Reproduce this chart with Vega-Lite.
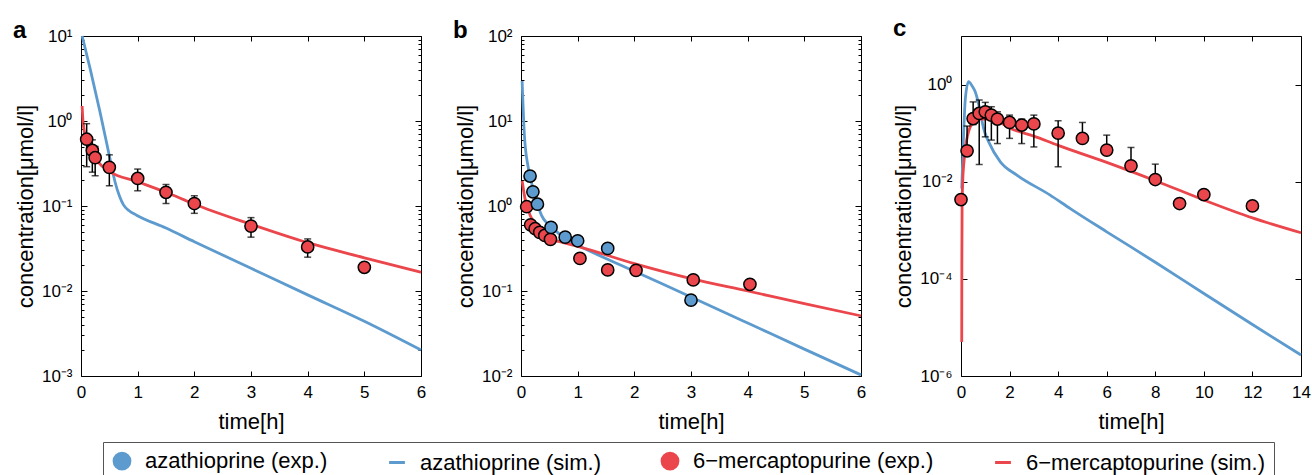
{
"$schema":"https://vega.github.io/schema/vega-lite/v6.json",
"padding":{"left":12,"top":16,"right":5,"bottom":5},
"spacing":100,
"bounds":"flush",
"background":"white",
"data":{"values":[
{"p":"a","s":"azathioprine (sim.)","t":0.02,"v":10},
{"p":"a","s":"azathioprine (sim.)","t":0.16,"v":4.16},
{"p":"a","s":"azathioprine (sim.)","t":0.335,"v":1.28},
{"p":"a","s":"azathioprine (sim.)","t":0.51,"v":0.363},
{"p":"a","s":"azathioprine (sim.)","t":0.6,"v":0.193},
{"p":"a","s":"azathioprine (sim.)","t":0.68,"v":0.13},
{"p":"a","s":"azathioprine (sim.)","t":0.75,"v":0.103},
{"p":"a","s":"azathioprine (sim.)","t":0.85,"v":0.088},
{"p":"a","s":"azathioprine (sim.)","t":0.98,"v":0.078},
{"p":"a","s":"azathioprine (sim.)","t":1.5,"v":0.055},
{"p":"a","s":"azathioprine (sim.)","t":2,"v":0.038},
{"p":"a","s":"azathioprine (sim.)","t":3,"v":0.0185},
{"p":"a","s":"azathioprine (sim.)","t":4,"v":0.009},
{"p":"a","s":"azathioprine (sim.)","t":5,"v":0.0044},
{"p":"a","s":"azathioprine (sim.)","t":6,"v":0.00202},
{"p":"a","s":"6−mercaptopurine (sim.)","t":0.02,"v":1.5},
{"p":"a","s":"6−mercaptopurine (sim.)","t":0.04,"v":0.9},
{"p":"a","s":"6−mercaptopurine (sim.)","t":0.1,"v":0.6},
{"p":"a","s":"6−mercaptopurine (sim.)","t":0.2,"v":0.42},
{"p":"a","s":"6−mercaptopurine (sim.)","t":0.3,"v":0.33},
{"p":"a","s":"6−mercaptopurine (sim.)","t":0.5,"v":0.255},
{"p":"a","s":"6−mercaptopurine (sim.)","t":1,"v":0.193},
{"p":"a","s":"6−mercaptopurine (sim.)","t":1.5,"v":0.145},
{"p":"a","s":"6−mercaptopurine (sim.)","t":2,"v":0.105},
{"p":"a","s":"6−mercaptopurine (sim.)","t":3,"v":0.061},
{"p":"a","s":"6−mercaptopurine (sim.)","t":4,"v":0.037},
{"p":"a","s":"6−mercaptopurine (sim.)","t":5,"v":0.0246},
{"p":"a","s":"6−mercaptopurine (sim.)","t":6,"v":0.0166},
{"p":"a","s":"6−mercaptopurine (exp.)","t":0.1,"v":0.61,"lo":0.29,"hi":0.93},
{"p":"a","s":"6−mercaptopurine (exp.)","t":0.2,"v":0.45,"lo":0.25,"hi":0.6},
{"p":"a","s":"6−mercaptopurine (exp.)","t":0.25,"v":0.37,"lo":0.227,"hi":0.5},
{"p":"a","s":"6−mercaptopurine (exp.)","t":0.5,"v":0.285,"lo":0.173,"hi":0.4},
{"p":"a","s":"6−mercaptopurine (exp.)","t":1,"v":0.211,"lo":0.151,"hi":0.272},
{"p":"a","s":"6−mercaptopurine (exp.)","t":1.5,"v":0.145,"lo":0.107,"hi":0.179},
{"p":"a","s":"6−mercaptopurine (exp.)","t":2,"v":0.107,"lo":0.082,"hi":0.132},
{"p":"a","s":"6−mercaptopurine (exp.)","t":3,"v":0.058,"lo":0.043,"hi":0.073},
{"p":"a","s":"6−mercaptopurine (exp.)","t":4,"v":0.033,"lo":0.025,"hi":0.041},
{"p":"a","s":"6−mercaptopurine (exp.)","t":5,"v":0.019},
{"p":"b","s":"azathioprine (sim.)","t":0.02,"v":29.5},
{"p":"b","s":"azathioprine (sim.)","t":0.06,"v":6.8},
{"p":"b","s":"azathioprine (sim.)","t":0.13,"v":2.77},
{"p":"b","s":"azathioprine (sim.)","t":0.25,"v":1.35},
{"p":"b","s":"azathioprine (sim.)","t":0.36,"v":0.78},
{"p":"b","s":"azathioprine (sim.)","t":0.48,"v":0.61},
{"p":"b","s":"azathioprine (sim.)","t":0.6,"v":0.52},
{"p":"b","s":"azathioprine (sim.)","t":0.78,"v":0.41},
{"p":"b","s":"azathioprine (sim.)","t":1,"v":0.345},
{"p":"b","s":"azathioprine (sim.)","t":2,"v":0.171},
{"p":"b","s":"azathioprine (sim.)","t":3,"v":0.085},
{"p":"b","s":"azathioprine (sim.)","t":4,"v":0.042},
{"p":"b","s":"azathioprine (sim.)","t":5,"v":0.0207},
{"p":"b","s":"azathioprine (sim.)","t":6,"v":0.0103},
{"p":"b","s":"6−mercaptopurine (sim.)","t":0.02,"v":1.97},
{"p":"b","s":"6−mercaptopurine (sim.)","t":0.07,"v":1.23},
{"p":"b","s":"6−mercaptopurine (sim.)","t":0.16,"v":0.78},
{"p":"b","s":"6−mercaptopurine (sim.)","t":0.32,"v":0.55},
{"p":"b","s":"6−mercaptopurine (sim.)","t":0.5,"v":0.42},
{"p":"b","s":"6−mercaptopurine (sim.)","t":0.75,"v":0.37},
{"p":"b","s":"6−mercaptopurine (sim.)","t":1,"v":0.335},
{"p":"b","s":"6−mercaptopurine (sim.)","t":2,"v":0.21},
{"p":"b","s":"6−mercaptopurine (sim.)","t":3,"v":0.14},
{"p":"b","s":"6−mercaptopurine (sim.)","t":4,"v":0.1},
{"p":"b","s":"6−mercaptopurine (sim.)","t":5,"v":0.071},
{"p":"b","s":"6−mercaptopurine (sim.)","t":6,"v":0.051},
{"p":"b","s":"6−mercaptopurine (exp.)","t":0.1,"v":0.98},
{"p":"b","s":"6−mercaptopurine (exp.)","t":0.17,"v":0.6},
{"p":"b","s":"6−mercaptopurine (exp.)","t":0.25,"v":0.54},
{"p":"b","s":"6−mercaptopurine (exp.)","t":0.33,"v":0.49},
{"p":"b","s":"6−mercaptopurine (exp.)","t":0.42,"v":0.45},
{"p":"b","s":"6−mercaptopurine (exp.)","t":0.52,"v":0.405},
{"p":"b","s":"6−mercaptopurine (exp.)","t":1.04,"v":0.242},
{"p":"b","s":"6−mercaptopurine (exp.)","t":1.53,"v":0.177},
{"p":"b","s":"6−mercaptopurine (exp.)","t":2.03,"v":0.175},
{"p":"b","s":"6−mercaptopurine (exp.)","t":3.04,"v":0.135},
{"p":"b","s":"6−mercaptopurine (exp.)","t":4.04,"v":0.12},
{"p":"b","s":"azathioprine (exp.)","t":0.16,"v":2.25},
{"p":"b","s":"azathioprine (exp.)","t":0.21,"v":1.47},
{"p":"b","s":"azathioprine (exp.)","t":0.29,"v":1.05},
{"p":"b","s":"azathioprine (exp.)","t":0.53,"v":0.56},
{"p":"b","s":"azathioprine (exp.)","t":0.78,"v":0.43},
{"p":"b","s":"azathioprine (exp.)","t":1.0,"v":0.39},
{"p":"b","s":"azathioprine (exp.)","t":1.53,"v":0.317},
{"p":"b","s":"azathioprine (exp.)","t":3.0,"v":0.078},
{"p":"c","s":"azathioprine (sim.)","t":0.03,"v":0.0072},
{"p":"c","s":"azathioprine (sim.)","t":0.11,"v":0.107},
{"p":"c","s":"azathioprine (sim.)","t":0.18,"v":0.52},
{"p":"c","s":"azathioprine (sim.)","t":0.31,"v":1.15},
{"p":"c","s":"azathioprine (sim.)","t":0.45,"v":0.95},
{"p":"c","s":"azathioprine (sim.)","t":0.59,"v":0.7},
{"p":"c","s":"azathioprine (sim.)","t":0.7,"v":0.45},
{"p":"c","s":"azathioprine (sim.)","t":0.79,"v":0.28},
{"p":"c","s":"azathioprine (sim.)","t":0.93,"v":0.125},
{"p":"c","s":"azathioprine (sim.)","t":1.14,"v":0.066},
{"p":"c","s":"azathioprine (sim.)","t":1.62,"v":0.0257},
{"p":"c","s":"azathioprine (sim.)","t":2.3,"v":0.0137},
{"p":"c","s":"azathioprine (sim.)","t":3.67,"v":0.0053},
{"p":"c","s":"azathioprine (sim.)","t":4.5,"v":0.0028},
{"p":"c","s":"azathioprine (sim.)","t":6,"v":0.00093},
{"p":"c","s":"azathioprine (sim.)","t":8,"v":0.00022},
{"p":"c","s":"azathioprine (sim.)","t":10,"v":0.00005},
{"p":"c","s":"azathioprine (sim.)","t":12,"v":0.0000115},
{"p":"c","s":"azathioprine (sim.)","t":14,"v":0.0000027},
{"p":"c","s":"6−mercaptopurine (sim.)","t":0.03,"v":0.000005},
{"p":"c","s":"6−mercaptopurine (sim.)","t":0.035,"v":0.0002},
{"p":"c","s":"6−mercaptopurine (sim.)","t":0.045,"v":0.003},
{"p":"c","s":"6−mercaptopurine (sim.)","t":0.07,"v":0.01},
{"p":"c","s":"6−mercaptopurine (sim.)","t":0.12,"v":0.025},
{"p":"c","s":"6−mercaptopurine (sim.)","t":0.18,"v":0.048},
{"p":"c","s":"6−mercaptopurine (sim.)","t":0.38,"v":0.135},
{"p":"c","s":"6−mercaptopurine (sim.)","t":0.6,"v":0.18},
{"p":"c","s":"6−mercaptopurine (sim.)","t":0.8,"v":0.195},
{"p":"c","s":"6−mercaptopurine (sim.)","t":1.2,"v":0.195},
{"p":"c","s":"6−mercaptopurine (sim.)","t":1.6,"v":0.166},
{"p":"c","s":"6−mercaptopurine (sim.)","t":2,"v":0.128},
{"p":"c","s":"6−mercaptopurine (sim.)","t":3,"v":0.087},
{"p":"c","s":"6−mercaptopurine (sim.)","t":4,"v":0.056},
{"p":"c","s":"6−mercaptopurine (sim.)","t":6,"v":0.025},
{"p":"c","s":"6−mercaptopurine (sim.)","t":8,"v":0.0105},
{"p":"c","s":"6−mercaptopurine (sim.)","t":10,"v":0.0042},
{"p":"c","s":"6−mercaptopurine (sim.)","t":12,"v":0.0018},
{"p":"c","s":"6−mercaptopurine (sim.)","t":14,"v":0.00089},
{"p":"c","s":"6−mercaptopurine (exp.)","t":0,"v":0.0043},
{"p":"c","s":"6−mercaptopurine (exp.)","t":0.25,"v":0.0433,"lo":0.0433,"hi":0.14},
{"p":"c","s":"6−mercaptopurine (exp.)","t":0.5,"v":0.2,"lo":0.15,"hi":0.44},
{"p":"c","s":"6−mercaptopurine (exp.)","t":0.75,"v":0.254,"lo":0.0226,"hi":0.48},
{"p":"c","s":"6−mercaptopurine (exp.)","t":1.0,"v":0.275,"lo":0.084,"hi":0.43},
{"p":"c","s":"6−mercaptopurine (exp.)","t":1.25,"v":0.235,"lo":0.072,"hi":0.35},
{"p":"c","s":"6−mercaptopurine (exp.)","t":1.5,"v":0.195,"lo":0.061,"hi":0.275},
{"p":"c","s":"6−mercaptopurine (exp.)","t":2,"v":0.166,"lo":0.078,"hi":0.235},
{"p":"c","s":"6−mercaptopurine (exp.)","t":2.5,"v":0.147,"lo":0.061,"hi":0.195},
{"p":"c","s":"6−mercaptopurine (exp.)","t":3,"v":0.155,"lo":0.052,"hi":0.235},
{"p":"c","s":"6−mercaptopurine (exp.)","t":4,"v":0.1,"lo":0.0203,"hi":0.18},
{"p":"c","s":"6−mercaptopurine (exp.)","t":5,"v":0.078,"lo":0.078,"hi":0.166},
{"p":"c","s":"6−mercaptopurine (exp.)","t":6,"v":0.0448,"lo":0.0448,"hi":0.091},
{"p":"c","s":"6−mercaptopurine (exp.)","t":7,"v":0.0212,"lo":0.0212,"hi":0.0507},
{"p":"c","s":"6−mercaptopurine (exp.)","t":8,"v":0.0111,"lo":0.0111,"hi":0.023},
{"p":"c","s":"6−mercaptopurine (exp.)","t":9,"v":0.00356},
{"p":"c","s":"6−mercaptopurine (exp.)","t":10,"v":0.00544},
{"p":"c","s":"6−mercaptopurine (exp.)","t":12,"v":0.00318}
]},
"hconcat":[
{
"width":340,"height":340,
"title":{"text":"a","anchor":"start","frame":"group","dx":-68,"dy":35,"offset":0,"baseline":"alphabetic","fontSize":24,"fontWeight":"bold","font":"Liberation Sans","color":"black"},
"transform":[{"filter":{"field":"p","equal":"a"}}],
"resolve":{"axis":{"x":"independent","y":"independent"}},
"layer":[
{"transform":[{"filter":{"field":"s","equal":"azathioprine (sim.)"}}],
"mark":{"type":"line","strokeWidth":2.8,"interpolate":"monotone"},
"encoding":{
"x":{"field":"t","type":"quantitative","scale":{"domain":[0,6],"nice":false},"axis":{"orient":"bottom","values":[0,1,2,3,4,5,6],"title":"time[h]","tickSize":-5,"labelPadding":13,"titlePadding":11}},
"y":{"field":"v","type":"quantitative","scale":{"type":"log","domain":[0.001,10],"nice":false},"axis":{"orient":"left","values":[0.001,0.01,0.1,1,10],"labelExpr":"datum.value==10?'10¹':datum.value==1?'10⁰':datum.value==0.1?'10⁻¹':datum.value==0.01?'10⁻²':datum.value==0.001?'10⁻³':''","tickSize":-6,"labelPadding":15,"title":"concentration[μmol/l]","titlePadding":4}},
"color":{"field":"s","type":"nominal","title":null,"scale":{"domain":["azathioprine (exp.)","azathioprine (sim.)","6−mercaptopurine (exp.)","6−mercaptopurine (sim.)"],"range":["#5d9bcf","#5d9bcf","#ea464b","#ea464b"]},"legend":{"orient":"none","legendX":22,"legendY":406,"direction":"horizontal","columns":4,"symbolSize":250,"labelFontSize":22,"labelFont":"Liberation Sans","labelColor":"black","labelOffset":12,"labelLimit":400,"columnPadding":55,"padding":8,"strokeColor":"#555555","fillColor":"white","title":null,"symbolStrokeWidth":3}}
}},
{"transform":[{"filter":{"field":"s","equal":"6−mercaptopurine (sim.)"}}],
"mark":{"type":"line","strokeWidth":2.8,"interpolate":"monotone"},
"encoding":{
"x":{"field":"t","type":"quantitative","scale":{"domain":[0,6],"nice":false},"axis":{"orient":"top","values":[0,1,2,3,4,5,6],"labels":false,"title":null,"tickSize":-5}},
"y":{"field":"v","type":"quantitative","scale":{"type":"log","domain":[0.001,10],"nice":false},"axis":{"orient":"right","values":[0.001,0.01,0.1,1,10],"labels":false,"title":null,"tickSize":-6}},
"color":{"field":"s","type":"nominal","title":null,"scale":{"domain":["azathioprine (exp.)","azathioprine (sim.)","6−mercaptopurine (exp.)","6−mercaptopurine (sim.)"],"range":["#5d9bcf","#5d9bcf","#ea464b","#ea464b"]}}
}},
{"transform":[{"filter":"isValid(datum.hi)"}],
"mark":{"type":"rule","color":"black","strokeWidth":1.5},
"encoding":{
"x":{"field":"t","type":"quantitative","scale":{"domain":[0,6],"nice":false},"axis":null},
"y":{"field":"lo","type":"quantitative","scale":{"type":"log","domain":[0.001,10],"nice":false},"axis":{"orient":"left","values":[0.002,0.003,0.004,0.005,0.006,0.007,0.008,0.009,0.02,0.03,0.04,0.05,0.06,0.07,0.08,0.09,0.2,0.3,0.4,0.5,0.6,0.7,0.8,0.9,2,3,4,5,6,7,8,9],"labels":false,"title":null,"tickSize":-3}},
"y2":{"field":"hi"}
}},
{"transform":[{"filter":"isValid(datum.hi)"}],
"mark":{"type":"tick","orient":"horizontal","color":"black","thickness":1.5,"size":7},
"encoding":{
"x":{"field":"t","type":"quantitative","scale":{"domain":[0,6],"nice":false},"axis":null},
"y":{"field":"hi","type":"quantitative","scale":{"type":"log","domain":[0.001,10],"nice":false},"axis":{"orient":"right","values":[0.002,0.003,0.004,0.005,0.006,0.007,0.008,0.009,0.02,0.03,0.04,0.05,0.06,0.07,0.08,0.09,0.2,0.3,0.4,0.5,0.6,0.7,0.8,0.9,2,3,4,5,6,7,8,9],"labels":false,"title":null,"tickSize":-3}}
}},
{"transform":[{"filter":"isValid(datum.hi)"}],
"mark":{"type":"tick","orient":"horizontal","color":"black","thickness":1.5,"size":7},
"encoding":{
"x":{"field":"t","type":"quantitative","scale":{"domain":[0,6],"nice":false},"axis":null},
"y":{"field":"lo","type":"quantitative","scale":{"type":"log","domain":[0.001,10],"nice":false},"axis":null}
}},
{"transform":[{"filter":"indexof(datum.s,'exp')>=0"}],
"mark":{"type":"point","filled":true,"size":150,"stroke":"black","strokeWidth":1.5,"opacity":1},
"encoding":{
"x":{"field":"t","type":"quantitative","scale":{"domain":[0,6],"nice":false},"axis":null},
"y":{"field":"v","type":"quantitative","scale":{"type":"log","domain":[0.001,10],"nice":false},"axis":null},
"color":{"field":"s","type":"nominal","title":null,"scale":{"domain":["azathioprine (exp.)","azathioprine (sim.)","6−mercaptopurine (exp.)","6−mercaptopurine (sim.)"],"range":["#5d9bcf","#5d9bcf","#ea464b","#ea464b"]}},
"shape":{"field":"s","type":"nominal","title":null,"scale":{"domain":["azathioprine (exp.)","azathioprine (sim.)","6−mercaptopurine (exp.)","6−mercaptopurine (sim.)"],"range":["circle","stroke","circle","stroke"]}}
}}
]
},
{
"width":340,"height":340,
"title":{"text":"b","anchor":"start","frame":"group","dx":-68,"dy":35,"offset":0,"baseline":"alphabetic","fontSize":24,"fontWeight":"bold","font":"Liberation Sans","color":"black"},
"transform":[{"filter":{"field":"p","equal":"b"}}],
"resolve":{"axis":{"x":"independent","y":"independent"}},
"layer":[
{"transform":[{"filter":{"field":"s","equal":"azathioprine (sim.)"}}],
"mark":{"type":"line","strokeWidth":2.8,"interpolate":"monotone"},
"encoding":{
"x":{"field":"t","type":"quantitative","scale":{"domain":[0,6],"nice":false},"axis":{"orient":"bottom","values":[0,1,2,3,4,5,6],"title":"time[h]","tickSize":-5,"labelPadding":13,"titlePadding":11}},
"y":{"field":"v","type":"quantitative","scale":{"type":"log","domain":[0.01,100],"nice":false},"axis":{"orient":"left","values":[0.01,0.1,1,10,100],"labelExpr":"datum.value==100?'10²':datum.value==10?'10¹':datum.value==1?'10⁰':datum.value==0.1?'10⁻¹':datum.value==0.01?'10⁻²':''","tickSize":-6,"labelPadding":15,"title":"concentration[μmol/l]","titlePadding":4}},
"color":{"field":"s","type":"nominal","title":null,"scale":{"domain":["azathioprine (exp.)","azathioprine (sim.)","6−mercaptopurine (exp.)","6−mercaptopurine (sim.)"],"range":["#5d9bcf","#5d9bcf","#ea464b","#ea464b"]}}
}},
{"transform":[{"filter":{"field":"s","equal":"6−mercaptopurine (sim.)"}}],
"mark":{"type":"line","strokeWidth":2.8,"interpolate":"monotone"},
"encoding":{
"x":{"field":"t","type":"quantitative","scale":{"domain":[0,6],"nice":false},"axis":{"orient":"top","values":[0,1,2,3,4,5,6],"labels":false,"title":null,"tickSize":-5}},
"y":{"field":"v","type":"quantitative","scale":{"type":"log","domain":[0.01,100],"nice":false},"axis":{"orient":"right","values":[0.01,0.1,1,10,100],"labels":false,"title":null,"tickSize":-6}},
"color":{"field":"s","type":"nominal","title":null,"scale":{"domain":["azathioprine (exp.)","azathioprine (sim.)","6−mercaptopurine (exp.)","6−mercaptopurine (sim.)"],"range":["#5d9bcf","#5d9bcf","#ea464b","#ea464b"]}}
}},
{"transform":[{"filter":{"field":"s","equal":"6−mercaptopurine (exp.)"}}],
"mark":{"type":"point","filled":true,"size":150,"stroke":"black","strokeWidth":1.5,"opacity":1},
"encoding":{
"x":{"field":"t","type":"quantitative","scale":{"domain":[0,6],"nice":false},"axis":null},
"y":{"field":"v","type":"quantitative","scale":{"type":"log","domain":[0.01,100],"nice":false},"axis":{"orient":"left","values":[0.02,0.03,0.04,0.05,0.06,0.07,0.08,0.09,0.2,0.3,0.4,0.5,0.6,0.7,0.8,0.9,2,3,4,5,6,7,8,9,20,30,40,50,60,70,80,90],"labels":false,"title":null,"tickSize":-3}},
"color":{"field":"s","type":"nominal","title":null,"scale":{"domain":["azathioprine (exp.)","azathioprine (sim.)","6−mercaptopurine (exp.)","6−mercaptopurine (sim.)"],"range":["#5d9bcf","#5d9bcf","#ea464b","#ea464b"]}},
"shape":{"field":"s","type":"nominal","title":null,"scale":{"domain":["azathioprine (exp.)","azathioprine (sim.)","6−mercaptopurine (exp.)","6−mercaptopurine (sim.)"],"range":["circle","stroke","circle","stroke"]}}
}},
{"transform":[{"filter":{"field":"s","equal":"azathioprine (exp.)"}}],
"mark":{"type":"point","filled":true,"size":150,"stroke":"black","strokeWidth":1.5,"opacity":1},
"encoding":{
"x":{"field":"t","type":"quantitative","scale":{"domain":[0,6],"nice":false},"axis":null},
"y":{"field":"v","type":"quantitative","scale":{"type":"log","domain":[0.01,100],"nice":false},"axis":{"orient":"right","values":[0.02,0.03,0.04,0.05,0.06,0.07,0.08,0.09,0.2,0.3,0.4,0.5,0.6,0.7,0.8,0.9,2,3,4,5,6,7,8,9,20,30,40,50,60,70,80,90],"labels":false,"title":null,"tickSize":-3}},
"color":{"field":"s","type":"nominal","title":null,"scale":{"domain":["azathioprine (exp.)","azathioprine (sim.)","6−mercaptopurine (exp.)","6−mercaptopurine (sim.)"],"range":["#5d9bcf","#5d9bcf","#ea464b","#ea464b"]}},
"shape":{"field":"s","type":"nominal","title":null,"scale":{"domain":["azathioprine (exp.)","azathioprine (sim.)","6−mercaptopurine (exp.)","6−mercaptopurine (sim.)"],"range":["circle","stroke","circle","stroke"]}}
}}
]
},
{
"width":340,"height":340,
"title":{"text":"c","anchor":"start","frame":"group","dx":-68,"dy":24,"offset":0,"baseline":"alphabetic","fontSize":24,"fontWeight":"bold","font":"Liberation Sans","color":"black"},
"transform":[{"filter":{"field":"p","equal":"c"}}],
"resolve":{"axis":{"x":"independent","y":"independent"}},
"layer":[
{"transform":[{"filter":{"field":"s","equal":"azathioprine (sim.)"}}],
"mark":{"type":"line","strokeWidth":2.8,"interpolate":"monotone"},
"encoding":{
"x":{"field":"t","type":"quantitative","scale":{"domain":[0,14],"nice":false},"axis":{"orient":"bottom","values":[0,2,4,6,8,10,12,14],"title":"time[h]","tickSize":-5,"labelPadding":13,"titlePadding":11}},
"y":{"field":"v","type":"quantitative","scale":{"type":"log","domain":[0.000001,10],"nice":false},"axis":{"orient":"left","values":[0.000001,0.0001,0.01,1],"labelExpr":"datum.value==1?'10⁰':datum.value==0.01?'10⁻²':datum.value==0.0001?'10⁻⁴':datum.value==0.000001?'10⁻⁶':''","tickSize":-6,"labelPadding":15,"title":"concentration[μmol/l]","titlePadding":4}},
"color":{"field":"s","type":"nominal","title":null,"scale":{"domain":["azathioprine (exp.)","azathioprine (sim.)","6−mercaptopurine (exp.)","6−mercaptopurine (sim.)"],"range":["#5d9bcf","#5d9bcf","#ea464b","#ea464b"]}}
}},
{"transform":[{"filter":{"field":"s","equal":"6−mercaptopurine (sim.)"}}],
"mark":{"type":"line","strokeWidth":2.8,"interpolate":"monotone"},
"encoding":{
"x":{"field":"t","type":"quantitative","scale":{"domain":[0,14],"nice":false},"axis":{"orient":"top","values":[0,2,4,6,8,10,12,14],"labels":false,"title":null,"tickSize":-5}},
"y":{"field":"v","type":"quantitative","scale":{"type":"log","domain":[0.000001,10],"nice":false},"axis":{"orient":"right","values":[0.000001,0.0001,0.01,1],"labels":false,"title":null,"tickSize":-6}},
"color":{"field":"s","type":"nominal","title":null,"scale":{"domain":["azathioprine (exp.)","azathioprine (sim.)","6−mercaptopurine (exp.)","6−mercaptopurine (sim.)"],"range":["#5d9bcf","#5d9bcf","#ea464b","#ea464b"]}}
}},
{"transform":[{"filter":"isValid(datum.hi)"}],
"mark":{"type":"rule","color":"black","strokeWidth":1.5},
"encoding":{
"x":{"field":"t","type":"quantitative","scale":{"domain":[0,14],"nice":false},"axis":null},
"y":{"field":"lo","type":"quantitative","scale":{"type":"log","domain":[0.000001,10],"nice":false},"axis":null},
"y2":{"field":"hi"}
}},
{"transform":[{"filter":"isValid(datum.hi)"}],
"mark":{"type":"tick","orient":"horizontal","color":"black","thickness":1.5,"size":7},
"encoding":{
"x":{"field":"t","type":"quantitative","scale":{"domain":[0,14],"nice":false},"axis":null},
"y":{"field":"hi","type":"quantitative","scale":{"type":"log","domain":[0.000001,10],"nice":false},"axis":null}
}},
{"transform":[{"filter":"isValid(datum.hi)"}],
"mark":{"type":"tick","orient":"horizontal","color":"black","thickness":1.5,"size":7},
"encoding":{
"x":{"field":"t","type":"quantitative","scale":{"domain":[0,14],"nice":false},"axis":null},
"y":{"field":"lo","type":"quantitative","scale":{"type":"log","domain":[0.000001,10],"nice":false},"axis":null}
}},
{"transform":[{"filter":"indexof(datum.s,'exp')>=0"}],
"mark":{"type":"point","filled":true,"size":150,"stroke":"black","strokeWidth":1.5,"opacity":1},
"encoding":{
"x":{"field":"t","type":"quantitative","scale":{"domain":[0,14],"nice":false},"axis":null},
"y":{"field":"v","type":"quantitative","scale":{"type":"log","domain":[0.000001,10],"nice":false},"axis":null},
"color":{"field":"s","type":"nominal","title":null,"scale":{"domain":["azathioprine (exp.)","azathioprine (sim.)","6−mercaptopurine (exp.)","6−mercaptopurine (sim.)"],"range":["#5d9bcf","#5d9bcf","#ea464b","#ea464b"]}},
"shape":{"field":"s","type":"nominal","title":null,"scale":{"domain":["azathioprine (exp.)","azathioprine (sim.)","6−mercaptopurine (exp.)","6−mercaptopurine (sim.)"],"range":["circle","stroke","circle","stroke"]}}
}}
]
}
],
"config":{
"view":{"stroke":"black","strokeWidth":1},
"font":"Liberation Sans",
"axis":{"labelFont":"Liberation Sans","labelFontSize":17,"labelColor":"black","titleFont":"Liberation Sans","titleFontSize":22,"titleFontWeight":"normal","titleColor":"black","tickColor":"black","tickWidth":1,"domain":false,"grid":false,"labelFlush":false,"labelOverlap":false,"minExtent":0}
}
}
